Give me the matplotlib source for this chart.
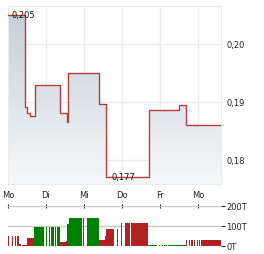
import numpy as np
import matplotlib
matplotlib.use('Agg')
import matplotlib.pyplot as plt
from matplotlib.colors import LinearSegmentedColormap

# price steps (time in days from Monday open, price held until next point)
price_t = [0, 0.447, 0.5, 0.571, 0.711, 1.368, 1.545, 1.579, 2.395, 2.579, 3.697, 4.5, 4.684, 5.6]
price = [0.205, 0.1891, 0.1881, 0.1875, 0.1929, 0.1881, 0.1865, 0.195, 0.1897, 0.177, 0.1886, 0.1895, 0.1861, 0.1861]

day_labels = ['Mo', 'Di', 'Mi', 'Do', 'Fr', 'Mo']
price_ticks = [0.18, 0.19, 0.20]
price_ticklabels = ['0,18', '0,19', '0,20']
vol_ticks = [0, 100, 200]
vol_ticklabels = ['0T', '100T', '200T']

# volume bars in thousands: start, end (days), value, up?
vol_start = [0.0, 0.105, 0.184, 0.245, 0.297, 0.368, 0.5, 0.684, 0.992, 1.071, 1.132, 1.237, 1.289,
             1.368, 1.526, 1.553, 1.605, 1.966, 2.087, 2.395, 2.553, 2.579, 2.808, 2.868, 2.974, 3.079,
             3.237, 3.684, 3.974, 4.045, 4.113, 4.218, 4.684, 4.755, 4.824, 4.895, 4.966, 5.034, 5.087]
vol_end = [0.034, 0.132, 0.211, 0.282, 0.334, 0.5, 0.676, 0.939, 1.018, 1.097, 1.211, 1.263, 1.368,
           1.526, 1.553, 1.605, 1.947, 2.0, 2.395, 2.553, 2.579, 2.789, 2.824, 2.887, 2.992, 3.211,
           3.684, 3.921, 4.0, 4.079, 4.176, 4.684, 4.718, 4.789, 4.861, 4.929, 5.0, 5.053, 5.6]
vol_value = [50, 50, 50, 50, 8, 5, 40, 97, 97, 97, 97, 97, 97,
             20, 25, 110, 140, 140, 140, 30, 50, 85, 85, 85, 115, 115,
             115, 4, 4, 4, 4, 4, 30, 30, 30, 30, 30, 30, 30]
vol_up = [False] * 7 + [True] * 6 + [False, False] + [True] * 4 + [False] * 8 + [True] * 5 + [False] * 7

plt.rcParams['font.family'] = ['DejaVu Sans']
plt.rcParams['font.size'] = 6

fig = plt.figure(figsize=(2.64, 2.55), dpi=100)
ax = fig.add_axes([8 / 264, 1 - 185 / 255, 213 / 264, 178 / 255])
axv = fig.add_axes([8 / 264, 1 - 247 / 255, 213 / 264, 40 / 255])

x0, x1 = 0, 5.6
y0, y1 = 0.17586, 0.20655

# gradient fill under the price line
poly = ax.fill_between(price_t, price, y0, step='post', facecolor='none', edgecolor='none')
cmap = LinearSegmentedColormap.from_list('g', ['#f6f8f9', '#c4cfd9'])
grad = np.linspace(0, 1, 256).reshape(-1, 1)
im = ax.imshow(grad, extent=[x0, x1, y0, 0.205], origin='lower', aspect='auto', cmap=cmap, zorder=1)
im.set_clip_path(poly.get_paths()[0], transform=ax.transData)
ax.step(price_t, price, where='post', color='#bb3a3c', lw=1.0, zorder=3)

ax.text(0.1, 0.205, '0,205', ha='left', va='center', color='#111', zorder=4)
ax.text(2.72, 0.1771, '0,177', ha='left', va='center', color='#111', zorder=4)

ax.set_xlim(x0, x1)
ax.set_ylim(y0, y1)
ax.set_xticks(range(len(day_labels)))
ax.set_xticklabels(day_labels)
ax.set_yticks(price_ticks)
ax.set_yticklabels(price_ticklabels)
ax.yaxis.tick_right()
ax.tick_params(length=0, colors='#222', pad=4)
ax.grid(True, color='#ebebeb', lw=1, zorder=0)
ax.set_axisbelow(True)
for s in ax.spines.values():
    s.set_color('#ebebeb')

# volume panel
colors = ['#008000' if u else '#b22222' for u in vol_up]
widths = [e - s for s, e in zip(vol_start, vol_end)]
axv.bar(vol_start, vol_value, width=widths, align='edge', color=colors, lw=0, zorder=2)
axv.set_xlim(x0, x1)
axv.set_ylim(0, 200)
axv.set_yticks(vol_ticks)
axv.set_yticklabels(vol_ticklabels)
axv.yaxis.tick_right()
axv.tick_params(axis='y', length=3, colors='#222', pad=1)
axv.set_xticks(range(len(day_labels)))
axv.tick_params(axis='x', top=True, bottom=False, labelbottom=False, direction='inout', length=3, color='#222')
axv.grid(True, axis='y', color='#c8c8c8', lw=1, zorder=0)
for s in axv.spines.values():
    s.set_visible(False)

fig.savefig('out.png', dpi=100)
